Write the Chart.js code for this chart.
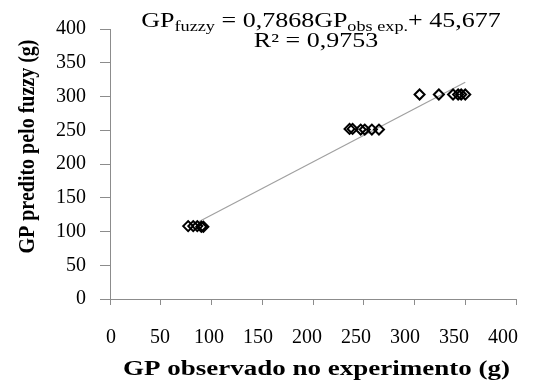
<!DOCTYPE html>
<html><head><meta charset="utf-8">
<script src="https://cdn.jsdelivr.net/npm/chart.js@4/dist/chart.umd.min.js"></script>
<style>html,body{margin:0;padding:0;background:#fff}#wrap{width:537px;height:381px;position:relative}</style>
</head><body><div id="wrap"><canvas id="c" width="537" height="381"></canvas></div>
<script>
// GP observed in experiment (g)
const observedX = [77, 82, 86, 90, 92, 236, 239, 247, 251, 258, 265, 305, 324, 338, 343, 346, 350];
// GP predicted by fuzzy (g)
const predictedY = [108, 108, 108, 107, 107, 252, 252, 251, 251, 251, 251, 303, 303, 303, 303, 303, 303];
// Displayed trendline coefficients
const slope = 0.7868;
const intercept = 45.677;
const r2Text = 'R² = 0,9753';
const trendX = [Math.min(...observedX), Math.max(...observedX)];
const axisMin = 0, axisMax = 400, axisStep = 50;
const xTitle = 'GP observado no experimento (g)';
const yTitle = 'GP predito pelo fuzzy (g)';

const FONT = "'Liberation Serif', 'Times New Roman', serif";
const AXIS = '#8c8c8c';

function stretchedText(ctx, text, x, y, sx, sy, rot) {
  ctx.save();
  ctx.translate(x, y);
  if (rot) ctx.rotate(rot);
  ctx.scale(sx, sy);
  ctx.fillText(text, 0, 0);
  ctx.restore();
}

const textPlugin = {
  id: 'texts',
  afterDraw(chart) {
    const ctx = chart.ctx;
    const SX = 1.3;
    const segs = [
      {t: 'GP', s: false}, {t: 'fuzzy', s: true}, {t: ' = 0,7868GP', s: false},
      {t: 'obs exp.', s: true}, {t: '+ 45,677', s: false}
    ];
    const big = '20px ' + FONT, small = '14px ' + FONT;
    ctx.save();
    ctx.fillStyle = '#000';
    ctx.textBaseline = 'alphabetic';
    ctx.textAlign = 'left';
    let total = 0;
    segs.forEach(sg => { ctx.font = sg.s ? small : big; sg.w = ctx.measureText(sg.t).width * SX; total += sg.w; });
    let x = 321 - total / 2;
    const base1 = 27;
    segs.forEach(sg => {
      ctx.font = sg.s ? small : big;
      stretchedText(ctx, sg.t, x, sg.s ? base1 + 4 : base1, SX, 1, 0);
      x += sg.w;
    });
    ctx.font = big;
    ctx.textAlign = 'center';
    stretchedText(ctx, r2Text, 316, 47, SX, 1, 0);
    // axis titles
    ctx.font = 'bold 20px ' + FONT;
    stretchedText(ctx, xTitle, 316.5, 375, 1.35, 1, 0);
    ctx.font = 'bold 20px ' + FONT;
    stretchedText(ctx, yTitle, 34, 146.5, 1, 1.2, -Math.PI / 2);
    ctx.restore();
  }
};

new Chart(document.getElementById('c'), {
  type: 'scatter',
  data: {
    datasets: [
      {
        data: observedX.map((x, i) => ({x: x, y: predictedY[i]})),
        pointStyle: 'rectRot', radius: 5, borderWidth: 2,
        borderColor: '#000', backgroundColor: 'rgba(255,255,255,0)'
      },
      {
        type: 'line',
        data: trendX.map(x => ({x: x, y: slope * x + intercept})),
        borderColor: '#a0a0a0', borderWidth: 1.2, pointRadius: 0, fill: false
      }
    ]
  },
  options: {
    responsive: false, animation: false, devicePixelRatio: 1,
    layout: {padding: {top: 29, right: 21, left: 0, bottom: 0}},
    plugins: {legend: {display: false}, tooltip: {enabled: false}},
    scales: {
      x: {
        type: 'linear', position: 'bottom', weight: 0, min: axisMin, max: axisMax,
        afterFit(s) { s.height = 0; s.paddingLeft = 0; s.paddingRight = 0; },
        border: {display: true, color: AXIS, width: 1},
        grid: {drawOnChartArea: false, drawTicks: true, tickLength: 6, color: AXIS},
        ticks: {stepSize: axisStep, display: false}
      },
      xLabels: {
        type: 'linear', axis: 'x', position: 'bottom', weight: 1,
        min: -1.02, max: 413.3,
        afterFit(s) { s.height = 82; s.paddingLeft = 0; s.paddingRight = 0; },
        border: {display: false},
        grid: {display: false},
        ticks: {stepSize: axisStep, includeBounds: false, padding: 19, color: '#000', font: {family: FONT, size: 20}, maxRotation: 0, autoSkip: false}
      },
      y: {
        type: 'linear', min: axisMin, max: axisMax,
        afterFit(s) { s.width = 110; s.paddingTop = 0; s.paddingBottom = 0; },
        border: {display: true, color: AXIS, width: 1},
        grid: {drawOnChartArea: false, drawTicks: true, tickLength: 10, color: AXIS},
        ticks: {stepSize: axisStep, padding: 14, color: '#000', font: {family: FONT, size: 20}}
      }
    }
  },
  plugins: [textPlugin]
});
</script></body></html>
